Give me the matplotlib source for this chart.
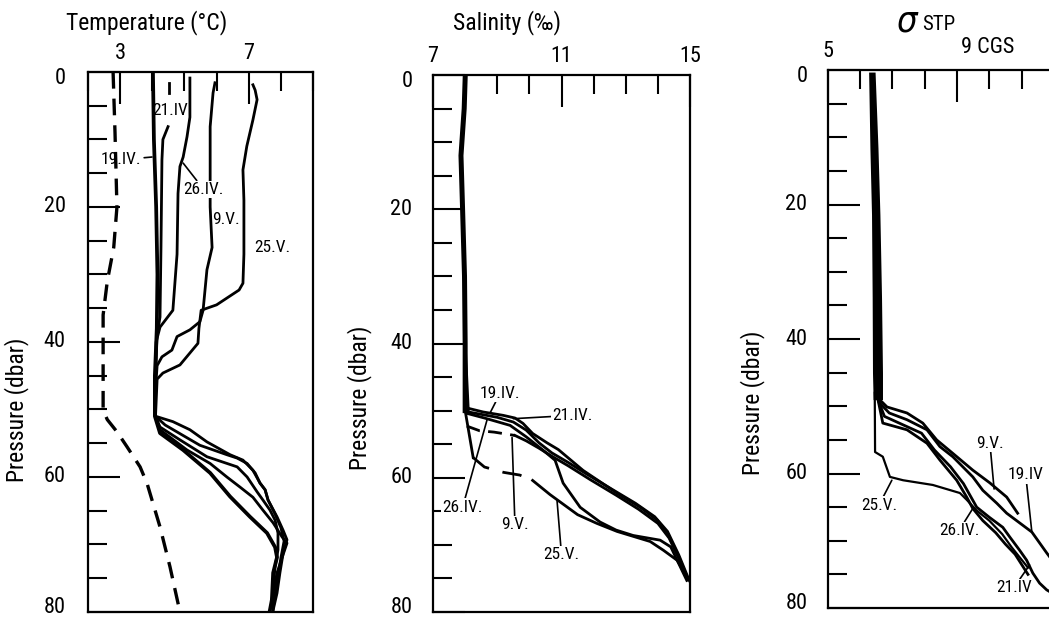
import numpy as np
import matplotlib.pyplot as plt
from matplotlib import font_manager
from matplotlib.ticker import MultipleLocator

# Fuente estrecha si existe
nombres = {f.name for f in font_manager.fontManager.ttflist}
candidatas = ['Liberation Sans Narrow', 'Roboto Condensed', 'Noto Sans Condensed',
              'Open Sans Condensed', 'DejaVu Sans Condensed']
fuente = next((c for c in candidatas if c in nombres), 'DejaVu Sans')
plt.rcParams['font.family'] = [fuente, 'DejaVu Sans']
plt.rcParams['font.stretch'] = 'condensed'

# ---------------- Temperatura (°C) vs presion (dbar) ----------------
t_dash = [2.78, 2.84, 2.90, 2.80, 2.60, 2.47, 2.47, 2.60, 2.90, 3.21, 3.62, 3.84, 4.24, 4.55, 4.86]
p_dash = [0, 9, 20, 26, 31, 36, 50.1, 51.5, 53.3, 55.5, 58.5, 61, 67.4, 73.3, 80]

t_19iv = [4.02, 4.05, 4.12, 4.16, 4.14, 4.08, 4.08, 4.24, 4.96, 5.80, 6.42, 7.04, 7.57, 7.82, 7.88, 7.76, 7.72, 7.66]
p_19iv = [0, 10, 20, 30, 38, 45, 51, 53.5, 56, 59.4, 62.9, 65.9, 68.3, 70.4, 71.9, 74.2, 78.2, 79.7]

t_21iv_sup = [4.52, 4.52]
p_21iv_sup = [1.6, 3.1]
t_21iv = [4.49, 4.33, 4.30, 4.27, 4.24, 4.15, 4.10, 4.10, 4.24, 4.86, 5.70, 6.64, 6.95, 7.26, 7.44,
          7.66, 7.82, 7.91, 7.91, 7.82, 7.76, 7.72]
p_21iv = [8.1, 10, 13, 26, 36.3, 39, 45, 51, 52.6, 54.5, 57, 58.5, 60, 62.2, 63.4,
          64.9, 66.4, 68.3, 70.8, 73.3, 76.3, 79.3]

t_26iv = [5.17, 5.17, 5.17, 5.08, 4.96, 4.86, 4.80, 4.77, 4.64, 4.24, 4.12, 4.10, 4.10, 4.24, 5.08,
          5.80, 6.32, 6.73, 7.13, 7.44, 7.76, 8.04, 8.19, 8.04, 7.88, 7.72]
p_26iv = [0.9, 3.7, 6.7, 9.6, 12.6, 14, 18, 27, 35.3, 37.8, 40, 46, 51, 53, 56,
          58, 60, 61.5, 63, 64.9, 66.8, 68.9, 69.8, 71.9, 74.2, 78.2]

t_9v = [5.95, 5.89, 5.80, 5.80, 5.80, 5.86, 5.70, 5.58, 5.48, 5.17, 4.77, 4.61, 4.30, 4.15, 4.10, 4.10,
        4.64, 5.17, 5.70, 6.42, 6.82, 7.13, 7.35, 7.51, 7.60, 7.88, 8.07, 8.19, 8.07, 7.97, 7.88, 7.76]
p_9v = [1.6, 3.1, 8.1, 14.5, 20, 26, 29.3, 35.3, 37, 38.2, 39.2, 41.2, 42.2, 43.5, 47, 51,
        51.8, 53, 54.8, 56.7, 57.5, 59, 60.9, 61.9, 63.4, 65.9, 67.9, 69.3, 71.3, 74.2, 77.2, 79.7]

t_25v = [7.13, 7.20, 7.26, 7.13, 6.94, 6.82, 6.85, 6.85, 6.82, 6.70, 6.00, 5.52, 5.45, 5.42, 4.86, 4.33,
         4.15, 4.10, 4.40, 5.48, 6.32, 6.64, 6.95, 7.20, 7.35, 7.51, 7.60, 7.82, 8.00, 8.10, 8.00, 7.90,
         7.80, 7.75]
p_25v = [1.9, 2.7, 4.1, 7.1, 11, 14.5, 19, 27, 31.3, 32.3, 34.5, 35.3, 38, 40.2, 43.4, 44.6,
         45.5, 51, 52.3, 55.3, 56.7, 57.2, 58, 59.4, 60.9, 61.9, 63.4, 65.5, 67.5, 69.5, 72, 75,
         78, 80]

# ---------------- Salinidad (‰) ----------------
s_sup = [8.00, 7.97, 7.87, 7.92, 7.98, 8.00, 8.00]
p_sup = [0.5, 5, 12, 20, 30, 40, 50]

s_19iv = [8.00, 8.05, 8.56, 9.18, 9.55, 9.80, 10.10, 10.55, 10.90, 11.67, 12.73, 13.45, 13.98, 14.29, 14.60, 14.91, 15.0]
ps_19iv = [40, 49.6, 50.2, 50.7, 51.1, 51.9, 53.4, 54.8, 55.8, 58.9, 62.3, 64.4, 66.3, 68.3, 71.2, 74.8, 75.5]
s_21iv = [8.00, 8.10, 9.00, 9.50, 9.90, 10.30, 10.70, 11.20, 11.80, 12.60, 13.30, 13.90, 14.30, 14.65, 14.95]
ps_21iv = [40, 50.2, 51, 51.7, 52.9, 54.8, 56.3, 57.7, 59.5, 61.8, 63.8, 65.8, 68, 71.5, 75]
s_26iv = [8.00, 8.05, 8.60, 9.40, 9.90, 10.40, 10.80, 11.05, 11.58, 12.20, 12.70, 13.23, 14.07, 14.40, 14.70, 14.90]
ps_26iv = [40, 50.4, 51.1, 52.2, 53.9, 55.8, 57.4, 60.8, 64.4, 66.6, 67.8, 68.6, 69.3, 70.3, 73.3, 75.3]
s_9v_tr = [8.05, 8.45, 8.90, 9.55]
ps_9v_tr = [52.3, 53.0, 53.2, 53.7]
s_9v = [9.55, 9.90, 10.30, 10.70, 11.20, 11.90, 12.70, 13.40, 14.00, 14.35, 14.65, 14.90]
ps_9v = [53.7, 54.5, 55.6, 56.8, 58.2, 60.3, 62.6, 64.7, 66.8, 69, 72, 75]
s_25v_a = [8.00, 8.25]
ps_25v_a = [50, 57]
s_25v_tr = [8.25, 8.60, 9.20, 9.70, 10.10]
ps_25v_tr = [57, 58.4, 59.2, 59.6, 60.4]
s_25v = [10.10, 10.64, 11.50, 12.10, 12.73, 13.76, 14.17, 14.60, 14.91]
ps_25v = [60.4, 62.5, 65.5, 66.8, 68.0, 69.5, 70.8, 72.3, 74.8]

# ---------------- sigma STP ----------------
pb_banda = [0.3, 11.6, 21.5, 33.8, 45, 49]
sig_izq = [6.26, 6.30, 6.35, 6.37, 6.38, 6.40]
sig_der = [6.46, 6.55, 6.61, 6.66, 6.69, 6.69]

g_19iv = [6.60, 6.90, 7.45, 8.07, 8.47, 8.87, 9.49, 9.80, 10.23, 10.54, 11.32, 11.78, 12.20]
pg_19iv = [49.5, 51, 52, 53.5, 56, 57.5, 60.5, 62.5, 64.4, 65.9, 68.7, 71.8, 74.5]
g_9v = [6.60, 6.83, 7.45, 7.94, 8.37, 8.87, 9.49, 10.02, 10.54, 10.88]
pg_9v = [49, 50.1, 51, 52.5, 55, 57, 59.5, 61.4, 63.5, 65.9]
g_26iv = [6.55, 6.70, 7.45, 8.07, 8.47, 8.99, 9.30, 9.49, 9.80, 10.20, 10.50, 10.80, 11.00, 11.20]
pg_26iv = [49, 52.5, 53.5, 55.5, 58, 61, 63.5, 65.2, 67, 68.8, 70.5, 72, 73.5, 75]
g_21iv = [6.55, 6.75, 7.30, 7.90, 8.30, 8.80, 9.20, 9.61, 10.00, 10.42, 10.63, 10.94, 11.16, 11.35,
          11.56, 11.78, 12.20]
pg_21iv = [49, 51.5, 52.7, 54, 56.5, 59, 61.5, 65, 66.5, 68, 69.4, 71.4, 72.9, 74.8, 76.3, 77.3, 78.5]
g_25v = [6.45, 6.46, 6.70, 6.92, 7.33, 8.25, 9.09, 9.30, 9.61, 10.00, 10.40, 10.70, 10.95, 11.20]
pg_25v = [48, 56.8, 57.5, 60.5, 61, 61.7, 62.9, 63.9, 65.5, 67, 69, 71, 72.5, 74]

# marcas del eje de presion
p_mayores = [0, 20, 40, 60, 80]
p_desplaz = [1.0, 0, 0, 0, -0.6]   # el 0 algo bajo y el 80 algo alto, como en el original


def ejes(ax, xmin, xmax, mayores, etiquetas, x_etiq):
    ax.set_xlim(xmin, xmax)
    ax.set_ylim(80, 0)
    ax.xaxis.tick_top()
    ax.set_xticks(mayores, labels=etiquetas)
    ax.xaxis.set_minor_locator(MultipleLocator(1))
    ax.set_yticks(p_mayores, labels=[''] * len(p_mayores))
    ax.yaxis.set_minor_locator(MultipleLocator(5))
    ax.tick_params(which='both', direction='in', width=1.5, color='k',
                   top=True, bottom=False, left=True, right=False)
    ax.tick_params(which='major', length=23)
    ax.tick_params(which='minor', length=14)
    ax.tick_params(axis='x', pad=6, labelsize=16)
    for s in ax.spines.values():
        s.set_linewidth(1.6)
    for p, d in zip(p_mayores, p_desplaz):
        ax.text(x_etiq, p + d, str(p), transform=ax.get_yaxis_transform(),
                ha='right', va='center', fontsize=16)


def rotulo(ax, texto, xy_texto, xy_linea=None, fondo=True):
    props = dict(fontsize=12.5, ha='center', va='center', zorder=6)
    if fondo:
        props['bbox'] = dict(boxstyle='square,pad=0.08', fc='white', ec='none')
    if xy_linea is None:
        ax.text(xy_texto[0], xy_texto[1], texto, **props)
    else:
        ax.annotate(texto, xy=xy_linea, xytext=xy_texto,
                    arrowprops=dict(arrowstyle='-', lw=1.2, color='k', shrinkA=0, shrinkB=0),
                    **props)


fig = plt.figure(figsize=(10.49, 6.21), dpi=100)
ax1 = fig.add_axes([0.0839, 0.0145, 0.2145, 0.8696])
ax2 = fig.add_axes([0.4128, 0.0145, 0.2450, 0.8647])
ax3 = fig.add_axes([0.7893, 0.0209, 0.2460, 0.8663])

lw = 2.0

# Panel temperatura
ax1.plot(t_dash, p_dash, color='k', lw=2.4, dashes=(5, 3))
ax1.plot(t_19iv, p_19iv, color='k', lw=2.7)
ax1.plot(t_21iv_sup, p_21iv_sup, color='k', lw=lw)
ax1.plot(t_21iv, p_21iv, color='k', lw=lw)
ax1.plot(t_26iv, p_26iv, color='k', lw=lw)
ax1.plot(t_9v, p_9v, color='k', lw=lw)
ax1.plot(t_25v, p_25v, color='k', lw=lw)
ejes(ax1, 2, 9, [3, 7], ['3', '7'], -0.10)
rotulo(ax1, '21.IV.', (4.62, 5.7), fondo=False)
rotulo(ax1, '19.IV.', (3.03, 13.0), (3.99, 12.6), fondo=False)
rotulo(ax1, '26.IV.', (5.60, 17.4), (4.96, 13.5))
rotulo(ax1, '9.V.', (6.28, 21.8), fondo=False)
rotulo(ax1, '25.V.', (7.72, 26.0), fondo=False)
ax1.set_ylabel('Pressure (dbar)', fontsize=17)
ax1.yaxis.set_label_coords(-0.262, 0.374)

# Panel salinidad
ax2.plot(s_sup, p_sup, color='k', lw=3.6)
ax2.plot(s_19iv, ps_19iv, color='k', lw=lw)
ax2.plot(s_21iv, ps_21iv, color='k', lw=lw)
ax2.plot(s_26iv, ps_26iv, color='k', lw=lw)
ax2.plot(s_9v_tr, ps_9v_tr, color='k', lw=lw, dashes=(5, 3))
ax2.plot(s_9v, ps_9v, color='k', lw=lw)
ax2.plot(s_25v_a, ps_25v_a, color='k', lw=lw)
ax2.plot(s_25v_tr, ps_25v_tr, color='k', lw=lw, dashes=(7, 5))
ax2.plot(s_25v, ps_25v, color='k', lw=lw)
ejes(ax2, 7, 15, [7, 11, 15], ['7', '11', '15'], -0.08)
rotulo(ax2, '19.IV.', (9.09, 47.4), (8.78, 50.3))
rotulo(ax2, '21.IV.', (11.35, 50.7), (9.50, 51.2))
rotulo(ax2, '26.IV.', (7.92, 64.4), (8.68, 51.4))
rotulo(ax2, '9.V.', (9.55, 67.0), (9.46, 54.0))
rotulo(ax2, '25.V.', (11.0, 71.5), (10.86, 63.4))
ax2.set_ylabel('Pressure (dbar)', fontsize=17)
ax2.yaxis.set_label_coords(-0.237, 0.398)

# Panel sigma
ax3.fill_betweenx(pb_banda, sig_izq, sig_der, color='k', lw=0)
ax3.plot(g_19iv, pg_19iv, color='k', lw=lw)
ax3.plot(g_9v, pg_9v, color='k', lw=lw)
ax3.plot(g_26iv, pg_26iv, color='k', lw=lw)
ax3.plot(g_21iv, pg_21iv, color='k', lw=lw)
ax3.plot(g_25v, pg_25v, color='k', lw=1.6)
ejes(ax3, 5, 13, [5, 9], ['5', ''], -0.08)
ax3.text(9.12, 1.041, '9 CGS', transform=ax3.get_xaxis_transform(),
         ha='left', va='center', fontsize=16)
rotulo(ax3, '25.V.', (6.58, 64.7), (6.98, 61.0))
rotulo(ax3, '9.V.', (10.02, 55.5), (10.15, 62.3))
rotulo(ax3, '19.IV', (11.13, 60.2), (11.32, 68.7))
rotulo(ax3, '26.IV.', (9.06, 68.5), (9.49, 65.2))
rotulo(ax3, '21.IV', (10.76, 77.0), (11.25, 73.6))
ax3.set_ylabel('Pressure (dbar)', fontsize=17)
ax3.yaxis.set_label_coords(-0.244, 0.381)

# Titulos de cada eje
fig.text(147 / 1049, 1 - 23 / 621, 'Temperature (°C)', ha='center', va='center', fontsize=17)
fig.text(507 / 1049, 1 - 23 / 621, 'Salinity (‰)', ha='center', va='center', fontsize=17)
fig.text(908 / 1049, 1 - 21 / 621, r'$\sigma$', ha='center', va='center', fontsize=26)
fig.text(922 / 1049, 1 - 24 / 621, 'STP', ha='left', va='center', fontsize=15)

plt.savefig('out.png', dpi=100)
